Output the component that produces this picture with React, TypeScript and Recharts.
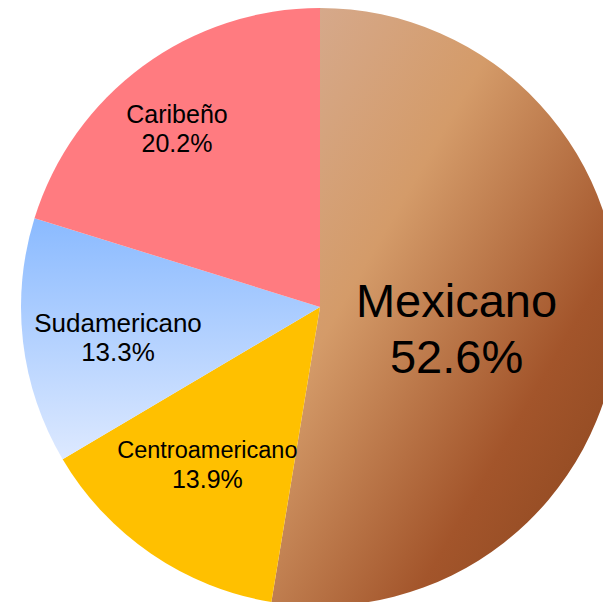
import React from 'react';
import { PieChart, Pie, Cell } from 'recharts';

const categories = ['Mexicano', 'Centroamericano', 'Sudamericano', 'Caribeño'];
const shares = [52.6, 13.9, 13.3, 20.2];

const data = categories.map((name, i) => ({ name, value: shares[i] }));

const fills = ['url(#gradMex)', '#FFC000', 'url(#gradSud)', '#FF7B80'];

// label placement relative to slice: radius ratio and angular nudge (deg), font sizes, line gap
const labelLayout = [
  { r: 0.462, da: -4, nameSize: 47, pctSize: 47, gap: 56 },
  { r: 0.649, da: -1.1, nameSize: 23.5, pctSize: 25, gap: 30 },
  { r: 0.683, da: 1.8, nameSize: 26, pctSize: 26, gap: 29.3 },
  { r: 0.764, da: 2.4, nameSize: 25, pctSize: 25, gap: 29 },
];

const RAD = Math.PI / 180;

const renderLabel = (props: any) => {
  const { cx, cy, midAngle, outerRadius, index, name, value } = props;
  const L = labelLayout[index];
  const ang = (midAngle + L.da) * RAD;
  const ax = cx + outerRadius * L.r * Math.cos(-ang);
  const ay = cy + outerRadius * L.r * Math.sin(-ang);
  const capH = 0.716 * L.nameSize;
  const b1 = ay - (L.gap - capH) / 2;
  const b2 = b1 + L.gap;
  return (
    <text
      x={ax}
      textAnchor="middle"
      fill="#000"
      fontFamily="'Liberation Sans', Arial, Helvetica, sans-serif"
    >
      <tspan x={ax} y={b1} fontSize={L.nameSize}>{name}</tspan>
      <tspan x={ax} y={b2} fontSize={L.pctSize}>{`${Number(value).toFixed(1)}%`}</tspan>
    </text>
  );
};

export default function App() {
  return (
    <div style={{ position: 'absolute', left: 0, top: 0, width: 603, height: 602, background: '#fff' }}>
      <PieChart width={603} height={602} margin={{ top: 0, right: 0, bottom: 0, left: 0 }}>
        <defs>
          <linearGradient id="gradMex" x1="0" y1="0" x2="1" y2="1">
            <stop offset="0" stopColor="#D6AC93" />
            <stop offset="0.35" stopColor="#D49B69" />
            <stop offset="0.7" stopColor="#A3552B" />
            <stop offset="1" stopColor="#86431C" />
          </linearGradient>
          <linearGradient id="gradSud" x1="0" y1="0" x2="0" y2="1">
            <stop offset="0" stopColor="#8ABAFF" />
            <stop offset="1" stopColor="#DDE9FF" />
          </linearGradient>
        </defs>
        <Pie
          data={data}
          dataKey="value"
          nameKey="name"
          cx={320}
          cy={307}
          outerRadius={299}
          innerRadius={0}
          startAngle={90}
          endAngle={-270}
          stroke="none"
          labelLine={false}
          label={renderLabel}
          isAnimationActive={false}
        >
          {data.map((d, i) => (
            <Cell key={d.name} fill={fills[i]} />
          ))}
        </Pie>
      </PieChart>
    </div>
  );
}
